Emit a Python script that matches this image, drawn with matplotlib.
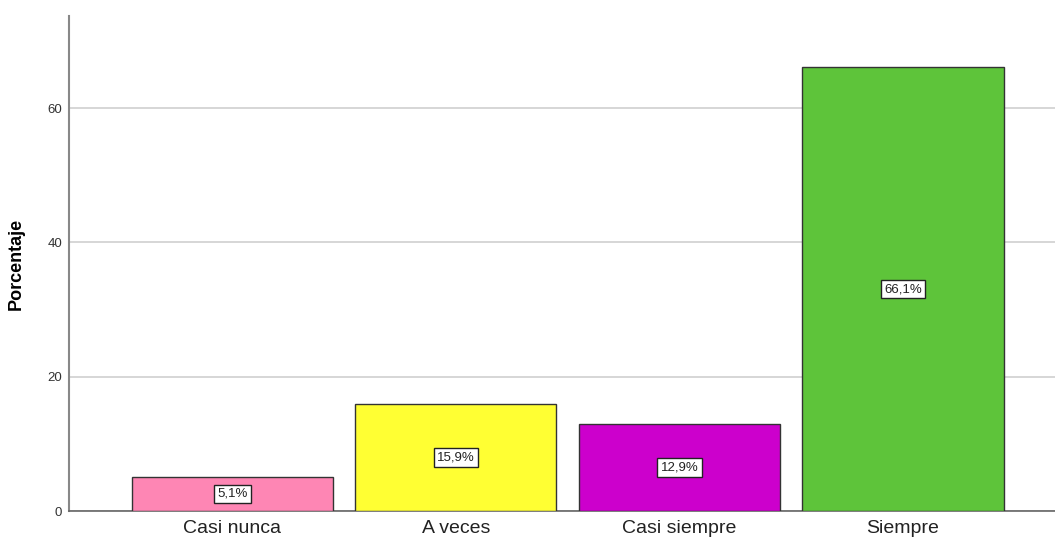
import matplotlib.pyplot as plt
import matplotlib.ticker as mticker

categorias = ['Casi nunca', 'A veces', 'Casi siempre', 'Siempre']
porcentajes = [5.1, 15.9, 12.9, 66.1]
colores = ['#fe86b4', '#ffff33', '#cc00cc', '#5ec43a']
yticks = [0, 20, 40, 60]

plt.rcParams['font.family'] = ['Liberation Sans', 'DejaVu Sans']

fig = plt.figure(figsize=(10.55, 5.38), dpi=100)
ax = fig.add_axes([69 / 1055, 27 / 538, 1 - 69 / 1055, (511 - 16) / 538])

x = range(len(categorias))
bars = ax.bar(x, porcentajes, width=0.9, color=colores,
              edgecolor='#333333', linewidth=1.0, zorder=3)

# etiqueta con el porcentaje en el centro de cada barra
for b, v in zip(bars, porcentajes):
    ax.text(b.get_x() + b.get_width() / 2, v / 2,
            f'{v:.1f}%'.replace('.', ','),
            ha='center', va='center', fontsize=9.5, color='#222222', zorder=5,
            bbox=dict(boxstyle='square,pad=0.25', facecolor='white',
                      edgecolor='#222222', linewidth=1.0))

ax.set_xlim(-0.73, 3.68)
ax.set_ylim(0, 73.7)
ax.yaxis.set_major_locator(mticker.FixedLocator(yticks))
ax.grid(axis='y', color='#d0d0d0', linewidth=1.2, zorder=0)

ax.set_xticks(list(x))
ax.set_xticklabels(categorias, fontsize=14, color='#222222')
ax.tick_params(axis='x', length=0, pad=6.5)
ax.tick_params(axis='y', length=0, pad=5, labelsize=9.5, labelcolor='#333333')

for s in ['top', 'right']:
    ax.spines[s].set_visible(False)
ax.spines['left'].set_color('#888888')
ax.spines['left'].set_linewidth(1.5)
ax.spines['bottom'].set_color('#666666')
ax.spines['bottom'].set_linewidth(1.2)

ax.set_ylabel('Porcentaje', fontsize=13, fontweight='bold', labelpad=16)

fig.savefig('out.png', dpi=100)
